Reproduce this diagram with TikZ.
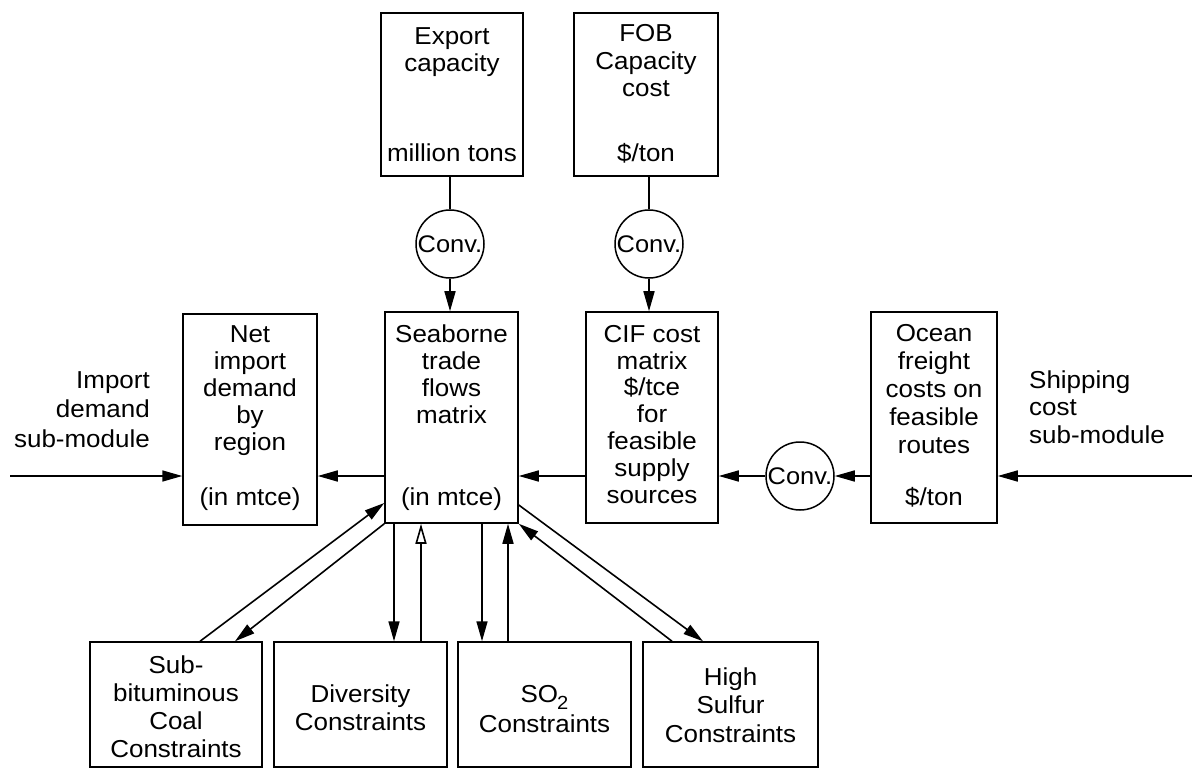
\documentclass[tikz,border=0pt]{standalone}
\usepackage{fontspec}
\setmainfont{Liberation Sans}[FakeStretch=1.06]
\usetikzlibrary{arrows.meta}
\begin{document}
\begin{tikzpicture}[x=1pt,y=-1pt,
  box/.style={draw, line width=1.5pt, inner sep=0pt},
  circ/.style={draw, circle, line width=1.5pt, minimum size=68pt, inner sep=0pt, font=\fontsize{24}{27}\selectfont},
  txt/.style={align=center, inner sep=0pt, anchor=base, font=\fontsize{24.5}{27.5}\selectfont},
  ln/.style={line width=1.6pt},
  arr/.style={line width=1.6pt, -{Triangle[length=20pt,width=11pt]}},
  arro/.style={line width=1.6pt, -{Triangle[open,length=20pt,width=11pt]}}]
\useasboundingbox (0,0) rectangle (1192,770);

% boxes
\node[box, minimum width=142pt, minimum height=163pt] (exp) at (452,94.5) {};
\node[box, minimum width=144pt, minimum height=163pt] (fob) at (646,94.5) {};
\node[box, minimum width=134pt, minimum height=211pt] (net) at (250,419.5) {};
\node[box, minimum width=133pt, minimum height=211pt] (seab) at (451.5,417.5) {};
\node[box, minimum width=132pt, minimum height=211pt] (cif) at (652,417.5) {};
\node[box, minimum width=126pt, minimum height=211pt] (ocean) at (934,417.5) {};
\node[box, minimum width=172pt, minimum height=125pt] (sub) at (176,704.5) {};
\node[box, minimum width=173pt, minimum height=125pt] (div) at (360.5,704.5) {};
\node[box, minimum width=173pt, minimum height=125pt] (so2) at (544.5,704.5) {};
\node[box, minimum width=175pt, minimum height=125pt] (hs) at (730.5,704.5) {};

% texts (anchor = baseline of the last line)
\node[txt] (expT) at (452,72) {Export\\capacity};
\node[txt] (expU) at (452,162) {million tons};
\node[txt] (fobT) at (646,97) {FOB\\Capacity\\cost};
\node[txt] (fobU) at (646,162) {\$/ton};
\node[txt, font=\fontsize{24.5}{27}\selectfont] (netT) at (250,450) {Net\\import\\demand\\by\\region};
\node[txt] (netU) at (250,505) {(in mtce)};
\node[txt, font=\fontsize{24.5}{27}\selectfont] (seabT) at (451.5,423) {Seaborne\\trade\\flows\\matrix};
\node[txt] (seabU) at (451.5,505) {(in mtce)};
\node[txt, font=\fontsize{24.5}{26.8}\selectfont] (cifT) at (652,503) {CIF cost\\matrix\\\$/tce\\for\\feasible\\supply\\sources};
\node[txt, font=\fontsize{24.5}{28}\selectfont] (oceanT) at (934,453) {Ocean\\freight\\costs on\\feasible\\routes};
\node[txt] (oceanU) at (934,505) {\$/ton};
\node[txt, align=right, anchor=base east, font=\fontsize{24.5}{29.5}\selectfont] (imp) at (150,447) {Import\\demand\\sub-module};
\node[txt, align=left, anchor=base west, font=\fontsize{24.5}{27.5}\selectfont] (ship) at (1029,443) {Shipping\\cost\\sub-module};
\node[txt, font=\fontsize{24.5}{28}\selectfont] (subT) at (176,757) {Sub-\\bituminous\\Coal\\Constraints};
\node[txt, font=\fontsize{24.5}{28}\selectfont] (divT) at (360.5,730) {Diversity\\Constraints};
\node[txt, font=\fontsize{24.5}{30}\selectfont] (so2T) at (544.5,732) {SO\kern-1pt\raisebox{-7pt}{\fontsize{19}{19}\selectfont 2}\\Constraints};
\node[txt, font=\fontsize{24.5}{28.5}\selectfont] (hsT) at (730.5,742) {High\\Sulfur\\Constraints};

% converters
\node[circ] (c1) at (450,244) {Conv.};
\node[circ] (c2) at (649,244) {Conv.};
\node[circ] (c3) at (800,476) {Conv.};

% connectors top
\draw[ln] (c1 |- exp.south) -- (c1.north);
\draw[arr] (c1.south) -- (c1 |- seab.north);
\draw[ln] (c2 |- fob.south) -- (c2.north);
\draw[arr] (c2.south) -- (c2 |- cif.north);

% horizontal flow
\coordinate (impin) at (10,476);
\coordinate (shipin) at (1192,476);
\draw[arr] (impin) -- (net.west |- impin);
\draw[arr] (seab.west |- impin) -- (net.east |- impin);
\draw[arr] (cif.west |- impin) -- (seab.east |- impin);
\draw[arr] (c3.west) -- (cif.east |- c3);
\draw[arr] (ocean.west |- c3) -- (c3.east);
\draw[arr] (shipin) -- (ocean.east |- shipin);

% verticals
\draw[arr] ([xshift=33.5pt]div.north |- seab.south) -- ([xshift=33.5pt]div.north);
\draw[arro] ([xshift=60.5pt]div.north) -- ([xshift=60.5pt]div.north |- seab.south);
\draw[arr] ([xshift=-62.5pt]so2.north |- seab.south) -- ([xshift=-62.5pt]so2.north);
\draw[arr] ([xshift=-36.5pt]so2.north) -- ([xshift=-36.5pt]so2.north |- seab.south);

% diagonals
\draw[arr] ([xshift=24pt]sub.north) -- ([yshift=-85.5pt]seab.west);
\draw[arr] (seab.south west) -- ([xshift=59pt]sub.north);
\draw[arr] ([yshift=-87.5pt]seab.east) -- ([xshift=-27.5pt]hs.north);
\draw[arr] ([xshift=-58.5pt]hs.north) -- (seab.south east);
\end{tikzpicture}
\end{document}
